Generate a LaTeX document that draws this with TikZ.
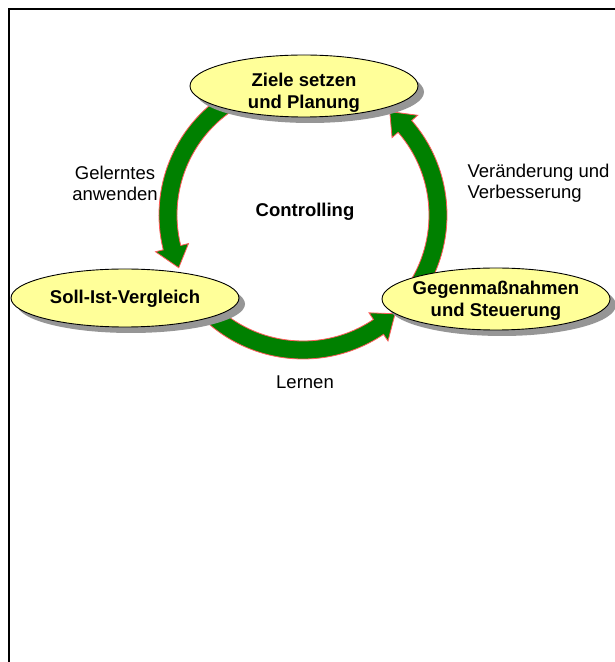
\documentclass[tikz,border=0pt]{standalone}
\usepackage{fontspec}
\setmainfont{Liberation Sans}
\usetikzlibrary{shapes.geometric,shadows}
\definecolor{goalyellow}{RGB}{255,255,153}
\definecolor{cycgreen}{RGB}{0,128,0}
\definecolor{cycred}{RGB}{255,90,90}
\definecolor{shadegray}{RGB}{150,150,150}
\tikzset{
  phase/.style={ellipse, draw, line width=0.9pt, fill=goalyellow,
    inner xsep=-12pt, inner ysep=0pt, minimum width=228pt, minimum height=62pt,
    drop shadow={shadow xshift=6pt, shadow yshift=-6pt, fill=shadegray, opacity=1}},
  phasetext/.style={align=center, inner sep=0pt, font=\fontsize{18.5}{21.5}\selectfont\bfseries},
  cycarrow/.style={fill=cycgreen, draw=cycred, line width=0.8pt, line join=miter},
  lab/.style={font=\fontsize{18.5}{21}\selectfont, align=center}
}

\begin{document}
\begin{tikzpicture}[x=1pt,y=1pt]
\useasboundingbox (0,0) rectangle (615,662);
% frame
\draw[line width=2pt] (9,0) -- (9,653) -- (615,653);

% arrows of the cycle
\coordinate (cyc) at (303,447);
\begin{scope}[shift={(cyc)}]
\foreach \a/\b in {122/203, 225/313, 325/410}{
  \pgfmathsetmacro{\hb}{\b-9}
  \draw[cycarrow] (\a:144) arc[start angle=\a, end angle=\hb, radius=144]
    -- (\hb:152) -- (\b:135) -- (\hb:118) -- (\hb:126)
    arc[start angle=\hb, end angle=\a, radius=126] -- cycle;
}
\end{scope}

% phases
\node[phase] (plan) at (304,576) {};
\node[phasetext] (plantxt) at ([yshift=-7pt]plan.center) {Ziele setzen\\und Planung};
\node[phase, minimum height=58pt] (check) at (125,364) {};
\node[phasetext] (checktxt) at ([yshift=-1pt]check.center) {Soll-Ist-Vergleich};
\node[phase] (act) at (496,363) {};
\node[phasetext] (acttxt) at ([yshift=-2pt]act.center) {Gegenmaßnahmen\\und Steuerung};

% labels
\node[lab] (apply) at (115,479) {Gelerntes\\anwenden};
\node[lab, font=\fontsize{18.5}{21}\selectfont\bfseries] (ctrl) at (305,450) {Controlling};
\node[lab, anchor=west, align=left] (improve) at (464,479) {Veränderung und\\Verbesserung};
\node[lab] (learn) at (305,280) {Lernen};
\end{tikzpicture}
\end{document}
